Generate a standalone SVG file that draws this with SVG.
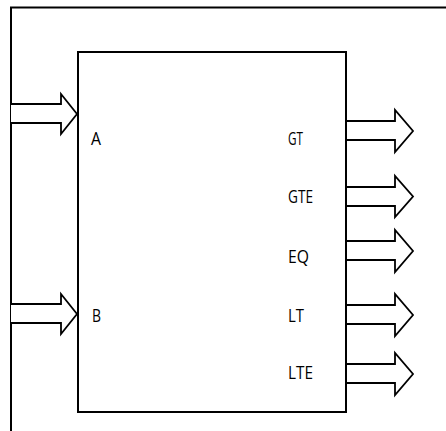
<svg xmlns="http://www.w3.org/2000/svg" width="446" height="431" viewBox="0 0 446 431">
<style>
.ln{fill:none;stroke:#000;stroke-width:2}
.ar{fill:#fff;stroke:#000;stroke-width:1.8;stroke-linejoin:miter}
.lb{font-family:"Open Sans","Noto Sans",sans-serif;font-size:18px;fill:#000}
</style>
<rect width="446" height="431" fill="#fff"/>
<path class="ln" d="M11 431 V7.5 H446"/>
<g id="block">
<rect class="ln" x="78" y="52" width="268" height="360"/>
</g>
<g id="connectors">
<path class="ar" d="M11 104 H61 V94 L77 114 L61 134 V123 H11"/>
<path class="ar" d="M11 304 H61 V294 L77 314 L61 334 V323 H11"/>
<path class="ar" d="M347 121 H395 V110 L413 131 L395 152 V140 H347"/>
<path class="ar" d="M347 187 H395 V176 L413 196.5 L395 217 V206 H347"/>
<path class="ar" d="M347 241 H395 V230 L413 251 L395 272 V260 H347"/>
<path class="ar" d="M347 305 H395 V294 L413 315 L395 336 V324 H347"/>
<path class="ar" d="M347 364 H395 V353 L413 374 L395 395 V383 H347"/>
</g>
<g id="labels">
<text class="lb" x="91" y="145" textLength="10" lengthAdjust="spacingAndGlyphs">A</text>
<text class="lb" x="92" y="322" textLength="9" lengthAdjust="spacingAndGlyphs">B</text>
<text class="lb" x="288" y="145" textLength="15" lengthAdjust="spacingAndGlyphs">GT</text>
<text class="lb" x="288" y="203" textLength="25" lengthAdjust="spacingAndGlyphs">GTE</text>
<text class="lb" x="288" y="263" textLength="21" lengthAdjust="spacingAndGlyphs">EQ</text>
<text class="lb" x="288" y="322" textLength="16" lengthAdjust="spacingAndGlyphs">LT</text>
<text class="lb" x="288" y="379" textLength="25" lengthAdjust="spacingAndGlyphs">LTE</text>
</g>
</svg>
